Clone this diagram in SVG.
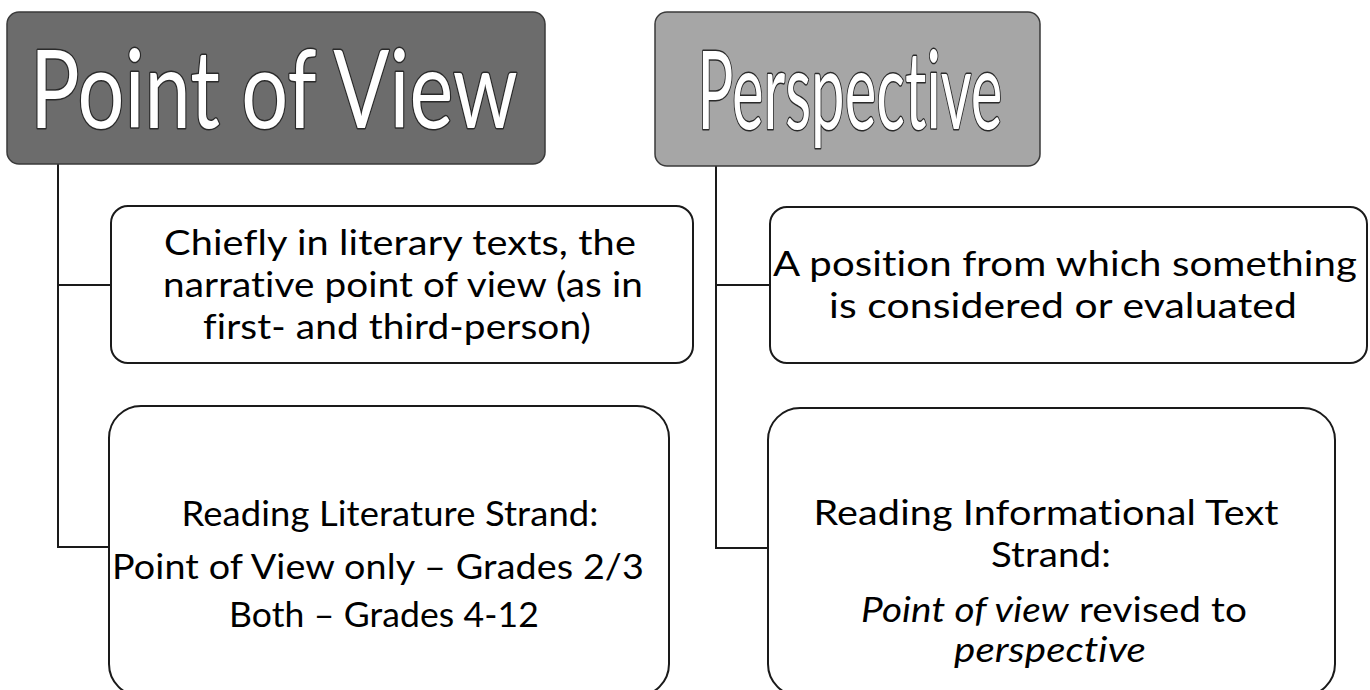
<svg xmlns="http://www.w3.org/2000/svg" width="1370" height="690" viewBox="0 0 1370 690">
<style>
text{font-variant-ligatures:none;font-feature-settings:"liga" 0,"clig" 0,"dlig" 0;letter-spacing:0.1px}
.hdr{stroke:#3a3a3a;stroke-width:1.5}
.box{fill:#fff;stroke:#1a1a1a;stroke-width:2}
.ht{font-family:Lato,"Open Sans","Liberation Sans",sans-serif;font-size:108px;fill:#fff;stroke:#2a2a2a;stroke-width:3;paint-order:stroke;stroke-linejoin:round;text-anchor:middle}
.bt{font-family:Lato,"Open Sans","Liberation Sans",sans-serif;font-size:35px;fill:#000;text-anchor:middle}
.it{font-style:italic}
.con{fill:none;stroke:#1a1a1a;stroke-width:2}
</style>
<rect width="1370" height="690" fill="#fff"/>
<g id="connectors">
<path class="con" d="M58 164 V547 H109 M58 285 H111"/>
<path class="con" d="M716 166 V548 H768 M716 285 H770"/>
</g>
<g id="pov">
<rect class="hdr" x="7" y="12" width="538" height="152" rx="12" fill="#6c6c6c"/>
<text class="ht" x="274" y="128" textLength="488" lengthAdjust="spacingAndGlyphs">Point of View</text>
</g>
<g id="perspective">
<rect class="hdr" x="655" y="12" width="385" height="154" rx="12" fill="#a6a6a6"/>
<text class="ht" x="850" y="129" textLength="305" lengthAdjust="spacingAndGlyphs">Perspective</text>
</g>
<g id="pov-def">
<rect class="box" x="111" y="206" width="582" height="157" rx="17"/>
<text class="bt" x="400" y="255" textLength="472" lengthAdjust="spacingAndGlyphs">Chiefly in literary texts, the</text>
<text class="bt" x="403" y="297" textLength="480" lengthAdjust="spacingAndGlyphs">narrative point of view (as in</text>
<text class="bt" x="397" y="339" textLength="388" lengthAdjust="spacingAndGlyphs">first- and third-person)</text>
</g>
<g id="pov-strand">
<rect class="box" x="109" y="406" width="560" height="290" rx="32"/>
<text class="bt" x="390" y="526" textLength="417" lengthAdjust="spacingAndGlyphs">Reading Literature Strand:</text>
<text class="bt" x="378" y="579" textLength="532" lengthAdjust="spacingAndGlyphs">Point of View only – Grades 2/3</text>
<text class="bt" x="384" y="627" textLength="310" lengthAdjust="spacingAndGlyphs">Both – Grades 4-12</text>
</g>
<g id="persp-def">
<rect class="box" x="770" y="207" width="597" height="156" rx="17"/>
<text class="bt" x="1065" y="276" textLength="584" lengthAdjust="spacingAndGlyphs">A position from which something</text>
<text class="bt" x="1063" y="318" textLength="468" lengthAdjust="spacingAndGlyphs">is considered or evaluated</text>
</g>
<g id="persp-strand">
<rect class="box" x="768" y="408" width="567" height="288" rx="32"/>
<text class="bt" x="1046" y="525" textLength="465" lengthAdjust="spacingAndGlyphs">Reading Informational Text</text>
<text class="bt" x="1051" y="567" textLength="120" lengthAdjust="spacingAndGlyphs">Strand:</text>
<text class="bt" x="1054" y="622" textLength="386" lengthAdjust="spacingAndGlyphs"><tspan class="it">Point of view</tspan> revised to</text>
<text class="bt it" x="1050" y="662" textLength="192" lengthAdjust="spacingAndGlyphs">perspective</text>
</g>
</svg>
